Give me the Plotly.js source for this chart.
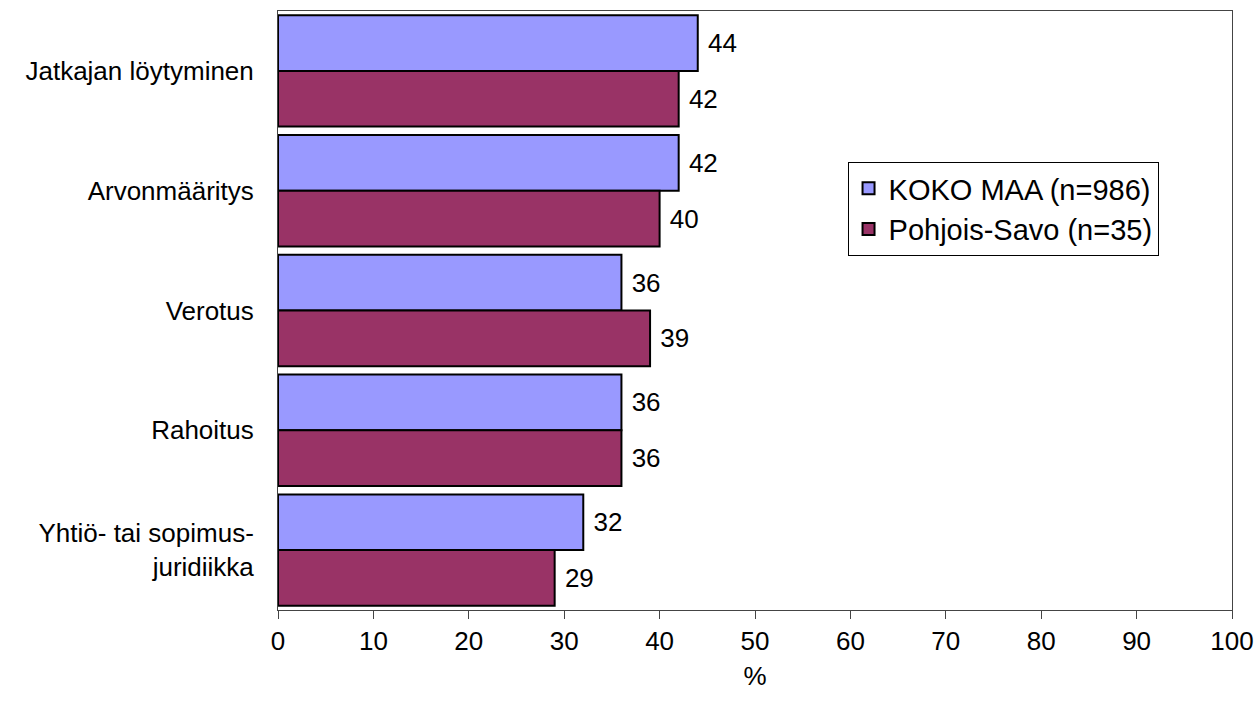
<!DOCTYPE html>
<html>
<head>
<meta charset="utf-8">
<script src="https://cdn.plot.ly/plotly-3.0.1.min.js"></script>
<style>html,body{margin:0;padding:0;background:#fff;}#chart{width:1260px;height:711px;}</style>
</head>
<body>
<div id="chart"></div>
<script>
const categories = ["Jatkajan löytyminen", "Arvonmääritys", "Verotus", "Rahoitus", "Yhtiö- tai sopimus-<br>juridiikka"];
const seriesNames = ["KOKO MAA (n=986)", "Pohjois-Savo (n=35)"];
const kokoMaa = [44, 42, 36, 36, 32];
const pohjoisSavo = [42, 40, 39, 36, 29];
const xTicks = [0, 10, 20, 30, 40, 50, 60, 70, 80, 90, 100];

const font = {family: "Arial, Liberation Sans, sans-serif", size: 26, color: "#000"};
const legendFont = {family: "Arial, Liberation Sans, sans-serif", size: 29, color: "#000"};

function bar(name, values, color) {
  return {
    type: "bar", orientation: "h", name: name,
    y: categories, x: values,
    text: values.map(v => "\u00a0" + v), textposition: "outside",
    textfont: font, cliponaxis: false,
    marker: {color: color, line: {color: "#000", width: 2}}
  };
}

const data = [bar(seriesNames[0], kokoMaa, "#9999ff"), bar(seriesNames[1], pohjoisSavo, "#993366")];

const layout = {
  width: 1260, height: 711,
  margin: {l: 278, r: 28, t: 11, b: 101},
  paper_bgcolor: "#fff", plot_bgcolor: "#fff",
  font: font,
  barmode: "group", bargap: 0.07, bargroupgap: 0,
  showlegend: true,
  legend: {x: 0.597, y: 0.748, xanchor: "left", yanchor: "top",
           bordercolor: "#000", borderwidth: 1, bgcolor: "#fff",
           font: legendFont, tracegroupgap: 0, itemwidth: 30},
  xaxis: {range: [0, 100], tickvals: xTicks, ticktext: xTicks.map(String),
          showgrid: false, zeroline: false, showline: true, linecolor: "#444", linewidth: 1,
          mirror: true, ticks: "outside", ticklen: 8, tickcolor: "#444",
          tickfont: font, title: {text: "%", font: font, standoff: 11}},
  yaxis: {autorange: "reversed", showgrid: false, zeroline: false,
          showline: true, linecolor: "#444", linewidth: 1, mirror: true,
          ticks: "", ticklabelstandoff: 18, tickfont: font}
};

Plotly.newPlot("chart", data, layout, {displayModeBar: false, staticPlot: true});
</script>
</body>
</html>
